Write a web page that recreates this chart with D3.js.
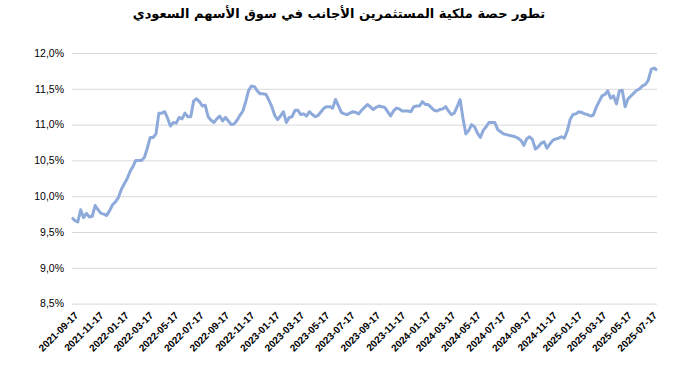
<!DOCTYPE html>
<html>
<head>
<meta charset="utf-8">
<script src="https://cdn.jsdelivr.net/npm/d3@7"></script>
<style>
  body { margin: 0; background: #fff; overflow: hidden; }
  text { font-family: "Liberation Sans", Arial, sans-serif; }
</style>
</head>
<body>
<div id="chart"></div>
<script>
const width = 676,
      height = 365,
      margin = { top: 53, right: 19, bottom: 61.4, left: 72 };

const innerWidth = width - (margin.right + margin.left),
      innerHeight = height - (margin.top + margin.bottom);

const title = 'تطور حصة ملكية المستثمرين الأجانب في سوق الأسهم السعودي';

// weekly readings, first one on 2021-09-17
const firstWeek = '2021-09-17';
const share = [
  9.70, 9.66, 9.64, 9.81, 9.70, 9.76, 9.71, 9.72, 9.87, 9.81,
  9.76, 9.75, 9.73, 9.80, 9.88, 9.92, 9.98, 10.09, 10.17, 10.24,
  10.34, 10.41, 10.50, 10.50, 10.50, 10.54, 10.67, 10.82, 10.82, 10.87,
  11.16, 11.16, 11.18, 11.09, 10.98, 11.03, 11.02, 11.10, 11.08, 11.16,
  11.11, 11.11, 11.33, 11.36, 11.32, 11.26, 11.27, 11.11, 11.06, 11.03,
  11.08, 11.12, 11.05, 11.10, 11.05, 11.00, 11.01, 11.06, 11.13, 11.19,
  11.32, 11.48, 11.54, 11.53, 11.47, 11.43, 11.43, 11.42, 11.34, 11.25,
  11.13, 11.07, 11.12, 11.18, 11.03, 11.10, 11.11, 11.20, 11.20, 11.14,
  11.15, 11.12, 11.18, 11.14, 11.11, 11.13, 11.18, 11.23, 11.25, 11.25,
  11.23, 11.35, 11.26, 11.17, 11.15, 11.14, 11.16, 11.18, 11.17, 11.15,
  11.20, 11.24, 11.28, 11.25, 11.21, 11.24, 11.26, 11.25, 11.24, 11.18,
  11.12, 11.19, 11.23, 11.22, 11.19, 11.19, 11.19, 11.18, 11.25, 11.26,
  11.26, 11.32, 11.28, 11.28, 11.24, 11.20, 11.19, 11.21, 11.22, 11.25,
  11.19, 11.14, 11.16, 11.25, 11.35, 11.09, 10.87, 10.92, 11.00, 10.97,
  10.88, 10.82, 10.92, 10.97, 11.03, 11.03, 11.03, 10.93, 10.90, 10.87,
  10.86, 10.85, 10.84, 10.83, 10.81, 10.78, 10.71, 10.80, 10.83, 10.79,
  10.66, 10.69, 10.74, 10.76, 10.67, 10.73, 10.78, 10.80, 10.81, 10.83,
  10.81, 10.91, 11.07, 11.14, 11.15, 11.18, 11.17, 11.15, 11.14, 11.12,
  11.13, 11.24, 11.32, 11.40, 11.42, 11.47, 11.37, 11.40, 11.29, 11.47,
  11.48, 11.25, 11.36, 11.40, 11.44, 11.48, 11.50, 11.54, 11.56, 11.62,
  11.77, 11.79, 11.76
];

const yTicks = [8.5, 9.0, 9.5, 10.0, 10.5, 11.0, 11.5, 12.0];
const xTickLabels = [
  '2021-09-17', '2021-11-17', '2022-01-17', '2022-03-17', '2022-05-17', '2022-07-17',
  '2022-09-17', '2022-11-17', '2023-01-17', '2023-03-17', '2023-05-17', '2023-07-17',
  '2023-09-17', '2023-11-17', '2024-01-17', '2024-03-17', '2024-05-17', '2024-07-17',
  '2024-09-17', '2024-11-17', '2025-01-17', '2025-03-17', '2025-05-17', '2025-07-17'
];

const parse = d3.utcParse('%Y-%m-%d');
const start = parse(firstWeek);

const data = share.map((v, i) => ({
  date: d3.utcDay.offset(start, 7 * i),
  value: v
}));

const svg = d3.select('#chart').append('svg')
    .attr('width', width)
    .attr('height', height)
    .style('display', 'block');

svg.append('text')
    .attr('x', 339)
    .attr('y', 18)
    .attr('text-anchor', 'middle')
    .attr('direction', 'rtl')
    .style('font-family', '"DejaVu Sans", sans-serif')
    .style('font-weight', 'bold')
    .style('font-size', '13px')
    .text(title);

const plot = svg.append('g')
    .attr('transform', `translate(${margin.left}, ${margin.top})`);

const xScale = d3.scaleUtc()
    .domain(d3.extent(data, d => d.date))
    .range([0, innerWidth]);

const yScale = d3.scaleLinear()
    .domain([8.5, 12])
    .range([innerHeight, 0]);

const fmt = v => v.toFixed(1).replace('.', ',') + '%';

// gridlines + y labels
const yAxis = plot.append('g')
    .call(d3.axisLeft(yScale)
      .tickValues(yTicks)
      .tickSize(-innerWidth)
      .tickPadding(8)
      .tickFormat(fmt));

yAxis.select('.domain').remove();
yAxis.selectAll('.tick line')
    .attr('stroke', '#d9d9d9');
yAxis.selectAll('.tick text')
    .attr('fill', '#000')
    .style('font-size', '10.5px');

// rotated date labels
const xAxis = plot.append('g')
    .attr('transform', `translate(0, ${innerHeight})`)
    .call(d3.axisBottom(xScale)
      .tickValues(xTickLabels.map(parse))
      .tickSize(0)
      .tickFormat(d3.utcFormat('%Y-%m-%d')));

xAxis.select('.domain').remove();
xAxis.selectAll('.tick text')
    .attr('fill', '#000')
    .attr('y', 0)
    .attr('dy', '0.35em')
    .attr('text-anchor', 'end')
    .attr('transform', 'translate(4, 10) rotate(-45)')
    .style('font-size', '10px')
    .style('font-weight', 'bold');

const line = d3.line()
    .x(d => xScale(d.date))
    .y(d => yScale(d.value));

plot.append('path')
    .datum(data)
    .attr('fill', 'none')
    .attr('stroke', '#8eaadb')
    .attr('stroke-width', 3)
    .attr('stroke-linejoin', 'round')
    .attr('d', line);
</script>
</body>
</html>
